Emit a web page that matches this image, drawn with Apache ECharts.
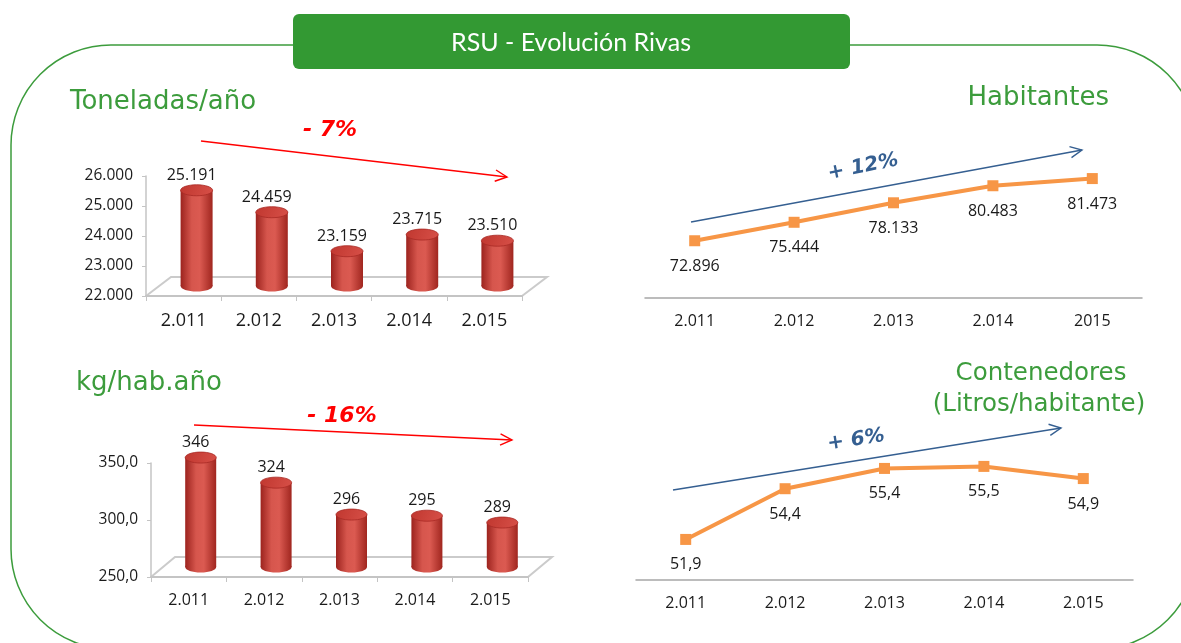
<!DOCTYPE html>
<html>
<head>
<meta charset="utf-8">
<title>RSU - Evolución Rivas</title>
<script src="https://cdn.jsdelivr.net/npm/echarts@6/dist/echarts.min.js"></script>
<style>
  html, body { margin: 0; padding: 0; background: #fff; }
  #main { width: 1181px; height: 643px; }
</style>
</head>
<body>
<div id="main"></div>
<script>
// data
const years = ['2.011', '2.012', '2.013', '2.014', '2.015'];
const yearsHab = ['2.011', '2.012', '2.013', '2.014', '2015'];
const toneladas = [25191, 24459, 23159, 23715, 23510];
const kgHab = [346, 324, 296, 295, 289];
const habitantes = [72896, 75444, 78133, 80483, 81473];
const contenedores = [51.9, 54.4, 55.4, 55.5, 54.9];
const tonRange = [22000, 26000, 1000];
const kgRange = [250, 350, 50];

const FONT = '"Open Sans", "Noto Sans", sans-serif';
const TITLE_FONT = '"DejaVu Sans", Verdana, sans-serif';
const GREEN = '#3c9c3c';
const BLUE = '#355f91';
const TXT = '#1a1a1a';

// grid boxes
const gTon = { left: 146, top: 176, width: 376, height: 120 };
const gKg = { left: 151, top: 463, width: 377, height: 114 };
const gHab = { left: 645, top: 153, width: 497, height: 145 };
const gCont = { left: 636, top: 438, width: 497, height: 142 };

const miles = (v) => String(Math.round(v)).replace(/\B(?=(\d{3})+(?!\d))/g, '.');
const coma = (v) => Number(v).toFixed(1).replace('.', ',');

const bodyFill = new echarts.graphic.LinearGradient(0, 0, 1, 0, [
  { offset: 0, color: '#9c231e' },
  { offset: 0.35, color: '#d6564d' },
  { offset: 0.6, color: '#db5a51' },
  { offset: 1, color: '#a0261f' }
]);
const topFill = new echarts.graphic.LinearGradient(0, 0, 1, 1, [
  { offset: 0, color: '#c0372f' },
  { offset: 1, color: '#d75048' }
]);

// cylinder bars, drawn a bit back into the floor
function cylinder(minVal, w, dx, dy, fontSize, fmt) {
  return function (params, api) {
    const i = api.value(0), v = api.value(1);
    const top = api.coord([i, v]);
    const base = api.coord([i, minVal]);
    const cx = top[0] + dx, yt = top[1] + dy, yb = base[1] + dy;
    return {
      type: 'group',
      children: [
        { type: 'ellipse', shape: { cx: cx, cy: yb, rx: w / 2, ry: 5.5 }, style: { fill: bodyFill } },
        { type: 'rect', shape: { x: cx - w / 2, y: yt, width: w, height: yb - yt }, style: { fill: bodyFill } },
        { type: 'ellipse', shape: { cx: cx, cy: yt, rx: w / 2, ry: 5.5 }, style: { fill: topFill, stroke: '#a82a24', lineWidth: 0.8 } },
        {
          type: 'text',
          style: {
            text: fmt(v), x: cx - 5, y: yt - 7,
            align: 'center', verticalAlign: 'bottom', textAlign: 'center', textVerticalAlign: 'bottom',
            fontSize: fontSize, fontFamily: FONT, fill: TXT
          }
        }
      ]
    };
  };
}

function floor(g, dx, dy) {
  const x0 = g.left, x1 = g.left + g.width, y = g.top + g.height;
  return {
    type: 'polyline',
    shape: { points: [[x0, y], [x0 + dx, y + dy], [x1 + dx, y + dy], [x1, y]] },
    style: { stroke: '#cbcbcb', lineWidth: 2, fill: null }
  };
}

function arrow(x1, y1, x2, y2, color) {
  const a = Math.atan2(y2 - y1, x2 - x1), L = 13, s = 0.45;
  return {
    type: 'group',
    children: [
      { type: 'line', shape: { x1: x1, y1: y1, x2: x2, y2: y2 }, style: { stroke: color, lineWidth: 1.4 } },
      {
        type: 'polyline',
        shape: { points: [
          [x2 - L * Math.cos(a - s), y2 - L * Math.sin(a - s)],
          [x2, y2],
          [x2 - L * Math.cos(a + s), y2 - L * Math.sin(a + s)]
        ] },
        style: { stroke: color, lineWidth: 1.4, fill: null }
      }
    ]
  };
}

function label(text, x, y, opts) {
  return {
    type: 'text',
    x: x, y: y,
    rotation: opts.rotation || 0,
    style: {
      text: text,
      fill: opts.color,
      font: opts.font,
      align: opts.align || 'center', textAlign: opts.align || 'center',
      verticalAlign: 'middle', textVerticalAlign: 'middle'
    }
  };
}

const catAxisBar = (gridIndex, data, fontSize, margin) => ({
  gridIndex, type: 'category', data,
  axisLine: { lineStyle: { color: '#c4c4c4', width: 2 } },
  axisTick: { show: true, length: 5, lineStyle: { color: '#c4c4c4' } },
  axisLabel: { fontSize, margin, color: TXT, fontFamily: FONT }
});
const catAxisLine = (gridIndex, data) => ({
  gridIndex, type: 'category', data,
  axisLine: { lineStyle: { color: '#a6a6a6', width: 1.5 } },
  axisTick: { show: false },
  axisLabel: { fontSize: 16, margin: 15, color: TXT, fontFamily: FONT }
});
const valAxisBar = (gridIndex, range, fmt) => ({
  gridIndex, type: 'value', min: range[0], max: range[1], interval: range[2],
  axisLine: { show: true, lineStyle: { color: '#c4c4c4', width: 1.5 } },
  axisTick: { show: true, length: 4, lineStyle: { color: '#c4c4c4' } },
  splitLine: { show: false },
  axisLabel: { formatter: fmt, fontSize: 15.5, margin: 13, color: TXT, fontFamily: FONT }
});

const lineSeries = (idx, data, fmt) => ({
  type: 'line', xAxisIndex: idx, yAxisIndex: idx, data,
  symbol: 'rect', symbolSize: 11,
  lineStyle: { color: '#f79646', width: 4 },
  itemStyle: { color: '#f79646' },
  label: { show: true, position: 'bottom', distance: 12, formatter: (p) => fmt(p.value), fontSize: 16, color: TXT, fontFamily: FONT }
});

const chart = echarts.init(document.getElementById('main'));
chart.setOption({
  animation: false,
  backgroundColor: '#fff',
  grid: [gTon, gKg, gHab, gCont],
  xAxis: [
    catAxisBar(0, years, 18, 16),
    catAxisBar(1, years, 16, 15),
    catAxisLine(2, yearsHab),
    catAxisLine(3, years)
  ],
  yAxis: [
    valAxisBar(0, tonRange, miles),
    valAxisBar(1, kgRange, coma),
    { gridIndex: 2, type: 'value', min: 65000, max: 85000, show: false },
    { gridIndex: 3, type: 'value', min: 49.9, max: 56.9, show: false }
  ],
  series: [
    {
      type: 'custom', xAxisIndex: 0, yAxisIndex: 0,
      data: toneladas.map((v, i) => [i, v]),
      renderItem: cylinder(tonRange[0], 32, 13, -10, 16, miles)
    },
    {
      type: 'custom', xAxisIndex: 1, yAxisIndex: 1,
      data: kgHab.map((v, i) => [i, v]),
      renderItem: cylinder(kgRange[0], 31, 12, -10, 16, miles)
    },
    lineSeries(2, habitantes, miles),
    lineSeries(3, contenedores, coma)
  ],
  graphic: [
    {
      type: 'rect', z: -10,
      shape: { x: 11, y: 45, width: 1186, height: 604, r: 100 },
      style: { fill: null, stroke: GREEN, lineWidth: 1.5 }
    },
    {
      type: 'rect',
      shape: { x: 293, y: 14, width: 557, height: 55, r: 6 },
      style: { fill: '#339933' }
    },
    label('RSU - Evolución Rivas', 571, 43, { color: '#fff', font: '25px Lato, "Open Sans", sans-serif' }),
    label('Toneladas/año', 70, 102, { color: GREEN, font: '26px ' + TITLE_FONT, align: 'left' }),
    label('kg/hab.año', 76, 383, { color: GREEN, font: '26px ' + TITLE_FONT, align: 'left' }),
    label('Habitantes', 1109, 98, { color: GREEN, font: '26px ' + TITLE_FONT, align: 'right' }),
    label('Contenedores', 1041, 374, { color: GREEN, font: '24.5px ' + TITLE_FONT }),
    label('(Litros/habitante)', 1039, 405, { color: GREEN, font: '24.5px ' + TITLE_FONT }),
    floor(gTon, 25, -19),
    floor(gKg, 24, -20),
    arrow(201, 141, 507, 177, '#ff0000'),
    arrow(194, 425, 512, 440, '#ff0000'),
    arrow(691, 222, 1082, 150, BLUE),
    arrow(673, 490, 1061, 428, BLUE),
    label('- 7%', 330, 130, { color: '#ff0000', font: 'italic bold 22px ' + TITLE_FONT }),
    label('- 16%', 342, 416, { color: '#ff0000', font: 'italic bold 22px ' + TITLE_FONT }),
    label('+ 12%', 863, 167, { color: BLUE, font: 'italic bold 20px ' + TITLE_FONT, rotation: 0.2 }),
    label('+ 6%', 856, 440, { color: BLUE, font: 'italic bold 20px ' + TITLE_FONT, rotation: 0.15 })
  ]
});
</script>
</body>
</html>
